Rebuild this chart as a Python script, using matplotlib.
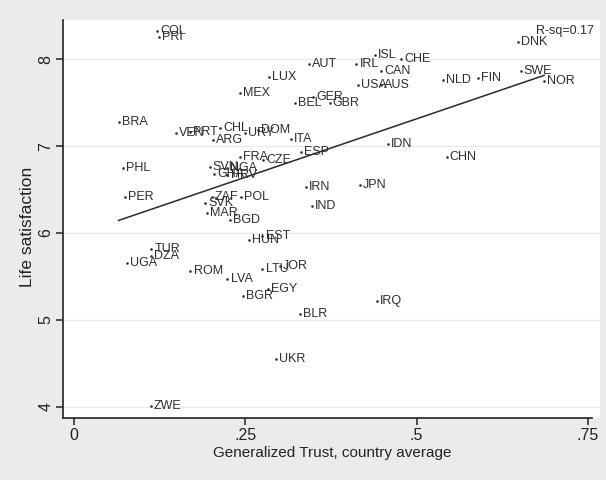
import numpy as np
import matplotlib
matplotlib.use("Agg")
import matplotlib.pyplot as plt
from matplotlib import font_manager

plt.rcParams['font.family'] = ['Liberation Sans', 'DejaVu Sans']

# tall, narrow face for the point labels when available
_names = {f.name for f in font_manager.fontManager.ttflist}
if "Liberation Sans Narrow" in _names:
    label_family, label_size = ["Liberation Sans Narrow", "DejaVu Sans"], 10.5
else:
    label_family, label_size = ["Liberation Sans", "DejaVu Sans"], 9

# Country codes, generalized trust (country average) and life satisfaction
countries = ["COL", "PRI", "DNK", "ISL", "CHE", "AUT", "IRL", "CAN", "SWE", "LUX",
             "FIN", "NLD", "NOR", "USA", "AUS", "MEX", "GER", "BEL", "GBR", "BRA",
             "CHL", "DOM", "PRT", "VEN", "URY", "ITA", "ARG", "IDN", "ESP", "FRA",
             "CZE", "SVN", "NGA", "PHL", "CHN", "HRV", "GHA", "JPN", "IRN", "ZAF",
             "POL", "PER", "SVK", "IND", "MAR", "BGD", "EST", "HUN", "TUR", "DZA",
             "UGA", "JOR", "LTU", "ROM", "LVA", "EGY", "BGR", "IRQ", "BLR", "UKR",
             "ZWE"]
trust = [0.121, 0.124, 0.648, 0.439, 0.477, 0.343, 0.412, 0.448, 0.652, 0.285,
         0.590, 0.538, 0.686, 0.415, 0.448, 0.242, 0.349, 0.322, 0.373, 0.065,
         0.213, 0.269, 0.169, 0.149, 0.250, 0.316, 0.203, 0.458, 0.331, 0.242,
         0.276, 0.198, 0.223, 0.071, 0.544, 0.224, 0.205, 0.417, 0.339, 0.201,
         0.244, 0.074, 0.191, 0.347, 0.194, 0.227, 0.275, 0.255, 0.113, 0.113,
         0.078, 0.301, 0.275, 0.170, 0.224, 0.283, 0.246, 0.442, 0.330, 0.295,
         0.112]
satisfaction = [8.32, 8.26, 8.20, 8.05, 8.00, 7.95, 7.94, 7.86, 7.86, 7.80,
                7.78, 7.76, 7.75, 7.70, 7.70, 7.61, 7.56, 7.50, 7.50, 7.28,
                7.21, 7.18, 7.16, 7.15, 7.15, 7.08, 7.07, 7.02, 6.93, 6.87,
                6.84, 6.76, 6.75, 6.75, 6.88, 6.67, 6.68, 6.55, 6.53, 6.41,
                6.42, 6.42, 6.34, 6.31, 6.23, 6.15, 5.97, 5.92, 5.82, 5.74,
                5.66, 5.62, 5.59, 5.56, 5.47, 5.35, 5.28, 5.22, 5.07, 4.55,
                4.01]

x_ticks = [0, 0.25, 0.5, 0.75]
x_ticklabels = ["0", ".25", ".5", ".75"]
y_ticks = [4, 5, 6, 7, 8]
r_sq_text = "R-sq=0.17"

x = np.array(trust)
y = np.array(satisfaction)

W, H = 606, 480
fig = plt.figure(figsize=(W / 100, H / 100), dpi=100, facecolor="#ebebeb")
left, right, top, bottom = 63, 600, 20, 418
ax = fig.add_axes([left / W, 1 - bottom / H, (right - left) / W, (bottom - top) / H])
ax.set_facecolor("white")

ax.set_xlim(-0.016, 0.7675)
ax.set_ylim(3.87, 8.452)

# light horizontal grid
for yt in y_ticks:
    ax.axhline(yt, color="#e8e8e8", lw=0.9, zorder=0)

ink = "#2e2e2e"
ax.scatter(x, y, s=3.5, color=ink, zorder=3, linewidths=0)
for code, xi, yi in zip(countries, x, y):
    ax.annotate(code, (xi, yi), xytext=(2.2, 0), textcoords="offset points",
                ha="left", va="center", fontsize=label_size, family=label_family,
                color=ink, zorder=4)

# least-squares fit over the observed trust range
slope, intercept = np.polyfit(x, y, 1)
xs = np.array([x.min(), x.max()])
ax.plot(xs, intercept + slope * xs, color="#2a2a2a", lw=1.1, zorder=2)

ax.text(0.988, 0.972, r_sq_text, transform=ax.transAxes, ha="right", va="center",
        fontsize=label_size, family=label_family, color=ink)

for side in ("top", "right"):
    ax.spines[side].set_visible(False)
for side in ("left", "bottom"):
    ax.spines[side].set_color("#222222")
    ax.spines[side].set_linewidth(1.2)
ax.spines["bottom"].set_bounds(-0.016, 0.756)

ax.set_xticks(x_ticks)
ax.set_xticklabels(x_ticklabels)
ax.set_yticks(y_ticks)
ax.set_yticklabels([str(t) for t in y_ticks], rotation=90, va="center")
ax.tick_params(axis="both", direction="out", length=5, width=1.1, color="#222222",
               labelsize=11.5, labelcolor="#222222", pad=2)

fig.text(332 / W, 1 - 453 / H, "Generalized Trust, country average", fontsize=11,
         color="#222222", ha="center", va="center")
fig.text(28 / W, 1 - 227 / H, "Life satisfaction", fontsize=12.5, color="#222222",
         ha="center", va="center", rotation=90)

fig.savefig("out.png", dpi=100, facecolor=fig.get_facecolor())
